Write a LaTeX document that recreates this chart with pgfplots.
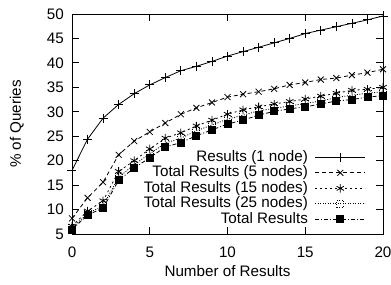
\documentclass[border=0pt]{standalone}
\usepackage{pgfplots}
\pgfplotsset{compat=1.18}
\usepackage{fontspec}
\setmainfont{Liberation Sans}
\begin{document}
\fontsize{15.2bp}{17bp}\selectfont
\begin{tikzpicture}
\begin{axis}[
  scale only axis,
  width=311bp, height=220bp,
  xmin=0, xmax=20, ymin=5, ymax=50,
  xtick={0,5,10,15,20},
  ytick={5,10,15,20,25,30,35,40,45,50},
  minor tick num=0,
  tick align=inside,
  major tick length=7bp,
  tick style={line width=0.8bp, black},
  axis line style={line width=0.9bp},
  /pgf/number format/assume math mode=true,
  ticklabel style={font=\fontsize{15.2bp}{17bp}\selectfont, inner sep=0pt},
  xticklabel style={anchor=base, yshift=-23bp},
  yticklabel style={anchor=east, xshift=-8bp},
  xlabel={Number of Results},
  ylabel={\% of Queries},
  label style={font=\fontsize{15.2bp}{17bp}\selectfont},
  xlabel style={at={([yshift=-42bp]axis description cs:0.5,0)}, anchor=base, inner sep=0pt},
  ylabel style={at={([xshift=-51bp]axis description cs:0,0.5)}, anchor=base, inner sep=0pt},
  legend cell align=right,
  legend plot pos=right,
  legend style={draw=none, fill=none, at={(0.945,0.035)}, anchor=south east,
    inner sep=0pt, row sep=2bp, column sep=7bp,
    nodes={inner sep=0pt, text height=10.5bp, text depth=3bp},
    font=\fontsize{15.2bp}{17bp}\selectfont},
  legend image code/.code={%
    \draw[mark repeat=2,mark phase=2] plot coordinates {(0bp,0bp) (25bp,0bp) (50bp,0bp)};},
  every axis plot/.append style={black, line width=0.8bp, mark options={solid, line width=0.8bp}},
]
\coordinate (sw) at (rel axis cs:0,0);
\addplot[mark=+, mark size=4.5bp] coordinates {
(0,18.0)(1,24.4)(2,28.7)(3,31.5)(4,33.7)(5,35.5)(6,37.0)(7,38.4)(8,39.3)(9,40.3)(10,41.4)
(11,42.3)(12,43.2)(13,44.1)(14,45.0)(15,46.0)(16,46.7)(17,47.4)(18,48.1)(19,48.8)(20,49.6)};
\addlegendentry{Results (1 node)}
\addplot[mark=x, mark size=4.2bp, dash pattern=on 4bp off 3bp] coordinates {
(0,8.2)(1,12.4)(2,15.6)(3,21.2)(4,24.0)(5,25.9)(6,27.7)(7,29.5)(8,30.8)(9,31.9)(10,33.0)
(11,33.6)(12,34.1)(13,34.7)(14,35.5)(15,36.0)(16,36.6)(17,36.9)(18,37.5)(19,38.0)(20,38.7)};
\addlegendentry{Total Results (5 nodes)}
\addplot[mark=asterisk, mark size=4.2bp, dash pattern=on 2bp off 3bp] coordinates {
(0,6.6)(1,9.7)(2,11.8)(3,17.8)(4,20.0)(5,22.4)(6,24.6)(7,25.7)(8,27.1)(9,28.3)(10,29.5)
(11,30.4)(12,31.0)(13,31.6)(14,32.1)(15,32.6)(16,33.2)(17,33.8)(18,34.4)(19,34.6)(20,35.0)};
\addlegendentry{Total Results (15 nodes)}
\addplot[mark=square, mark size=3.5bp, mark options={fill=white}, dash pattern=on 1bp off 1.5bp] coordinates {
(0,6.2)(1,9.2)(2,10.8)(3,16.6)(4,19.2)(5,21.4)(6,23.6)(7,24.6)(8,26.1)(9,27.3)(10,28.5)
(11,29.3)(12,30.2)(13,30.7)(14,31.2)(15,31.7)(16,32.2)(17,32.9)(18,33.4)(19,33.8)(20,34.1)};
\addlegendentry{Total Results (25 nodes)}
\addplot[mark=square*, mark size=3.5bp, dash pattern=on 4bp off 2bp on 1bp off 2bp] coordinates {
(0,5.9)(1,8.9)(2,10.3)(3,16.0)(4,18.5)(5,20.6)(6,22.8)(7,23.7)(8,25.1)(9,26.3)(10,27.5)
(11,28.3)(12,29.3)(13,30.1)(14,30.6)(15,31.0)(16,31.6)(17,32.2)(18,32.5)(19,33.0)(20,33.3)};
\addlegendentry{Total Results}
\end{axis}
\pgfresetboundingbox
\useasboundingbox ([xshift=-72bp,yshift=-51bp]sw) rectangle ++(391bp,285bp);
\end{tikzpicture}
\end{document}
